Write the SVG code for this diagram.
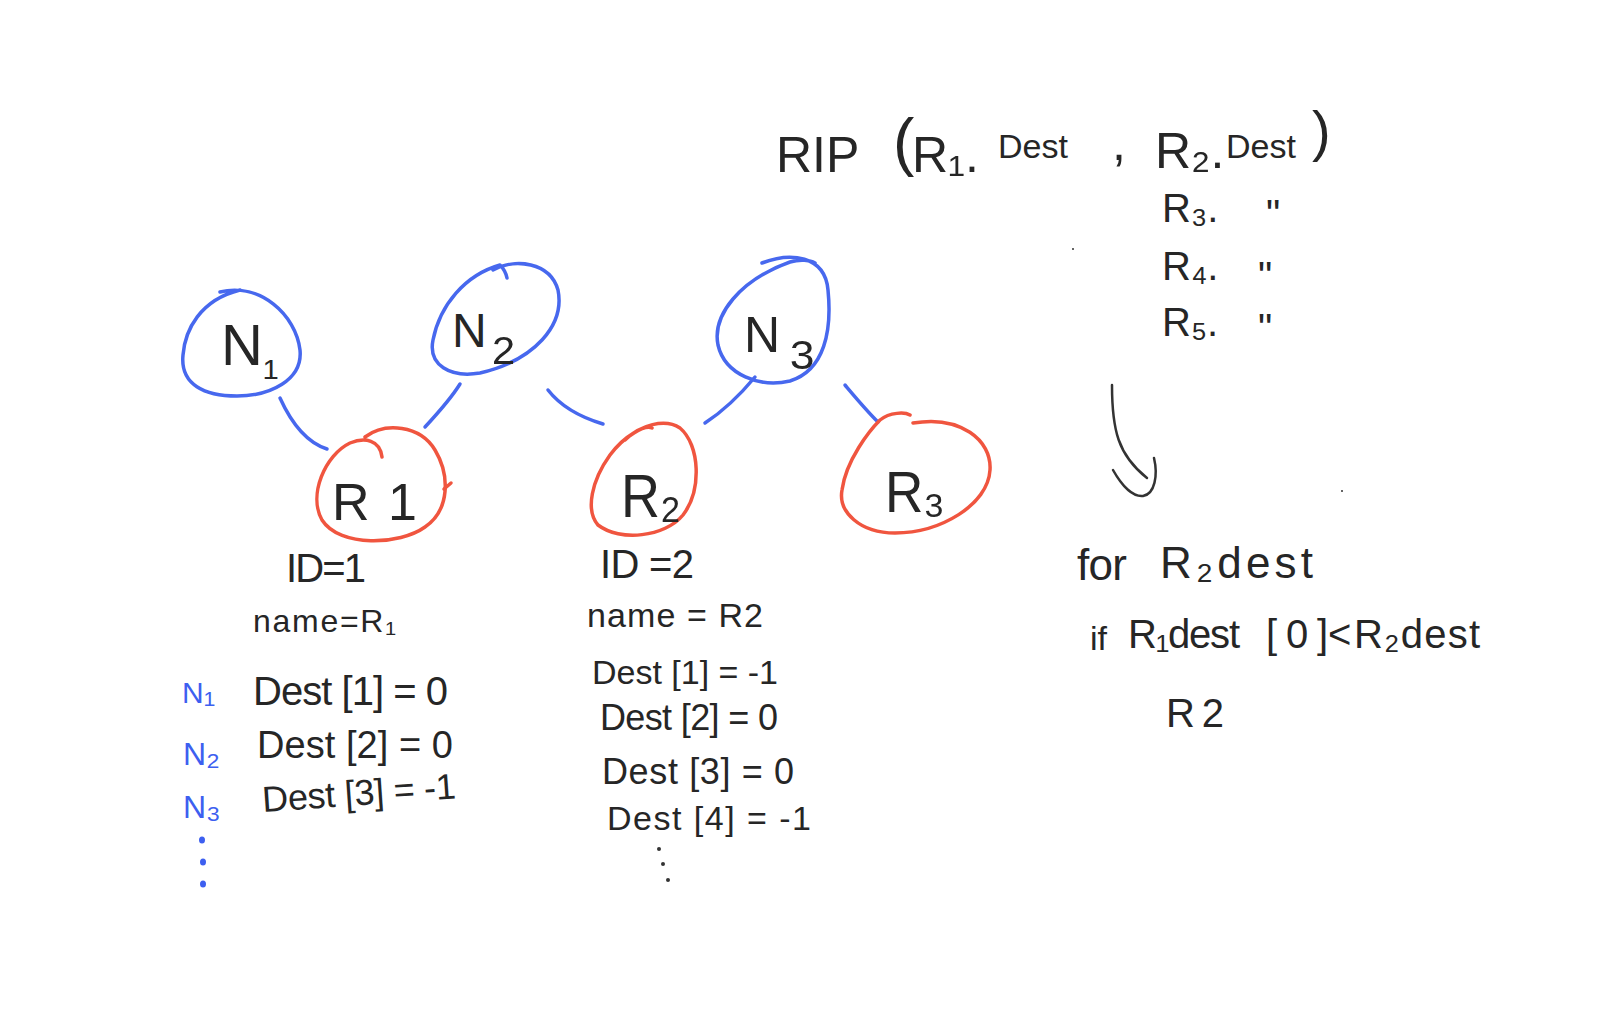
<svg xmlns="http://www.w3.org/2000/svg" width="1600" height="1035" viewBox="0 0 1600 1035">
<style>
.bl{fill:none;stroke:#4768ee;stroke-width:3.5;stroke-linecap:round;stroke-linejoin:round}
.rd{fill:none;stroke:#f0553f;stroke-width:3.5;stroke-linecap:round;stroke-linejoin:round}
.ink{fill:none;stroke:#333;stroke-width:2.5;stroke-linecap:round}
.t{font-family:"Liberation Sans","DejaVu Sans",sans-serif;fill:#262626}
.tb{font-family:"Liberation Sans","DejaVu Sans",sans-serif;fill:#3d5ff0}
.dotb{fill:#3d5ff0}
.dotk{fill:#333}
</style>
<rect width="1600" height="1035" fill="#ffffff"/>

<g id="connectors">
<path class="bl" d="M280,398 C290,420 305,442 327,449"/>
<path class="bl" d="M460,384 C450,400 438,413 425,427"/>
<path class="bl" d="M548,390 C562,408 583,418 603,424"/>
<path class="bl" d="M755,377 C740,395 725,410 705,423"/>
<path class="bl" d="M845,385 C856,398 866,410 878,422"/>
</g>

<g id="N1">
<path class="bl" d="M220,292 C260,282 296,315 300,350 C303,380 270,396 237,396 C205,396 180,385 183,355 C185,330 200,300 240,290"/>
<text class="t" x="221" y="365" font-size="58">N<tspan font-size="46" dy="10">₁</tspan></text>
</g>

<g id="N2">
<path class="bl" d="M493,270 C515,258 550,262 558,290 C565,325 535,360 480,373 C450,378 428,365 433,340 C440,305 465,275 500,265 C503,268 506,273 507,278"/>
<text class="t" x="452" y="347" font-size="48">N<tspan font-size="66" dx="4" dy="11">₂</tspan></text>
</g>

<g id="N3">
<path class="bl" d="M762,263 C790,252 825,255 828,290 C832,330 825,370 790,381 C760,388 725,375 718,345 C712,315 740,280 790,262 C800,259 810,260 815,263"/>
<text class="t" x="744" y="352" font-size="50">N<tspan font-size="70" dx="8" dy="11">₃</tspan></text>
</g>

<g id="R1">
<path class="rd" d="M365,437 C385,422 420,425 435,450 C450,475 450,510 425,527 C400,545 340,548 322,520 C308,495 325,455 350,443 C365,437 380,440 382,457"/>
<path class="rd" d="M444,489 L451,483"/>
<text class="t" y="520" font-size="52"><tspan x="332">R</tspan><tspan x="388">1</tspan></text>
</g>

<g id="R2">
<path class="rd" d="M625,440 C640,425 665,418 680,428 C700,445 702,490 683,515 C665,537 620,542 598,525 C585,510 592,480 610,455 C625,435 645,425 652,428"/>
<text class="t" x="621" y="517" font-size="62" textLength="60" lengthAdjust="spacingAndGlyphs">R₂</text>
</g>

<g id="R3">
<path class="rd" d="M913,423 C960,415 992,440 990,470 C988,505 940,533 895,533 C860,533 838,512 842,490 C846,460 870,430 880,420 C890,412 905,412 910,415"/>
<text class="t" x="885" y="512" font-size="58" textLength="60" lengthAdjust="spacingAndGlyphs">R₃</text>
</g>

<g id="rip-call">
<text class="t" font-size="50">
<tspan x="776" y="172">RIP</tspan><tspan x="893" y="164" font-size="64">(</tspan><tspan x="912" y="172">R₁.</tspan><tspan x="998" y="158" font-size="34">Dest</tspan><tspan x="1112" y="160">,</tspan><tspan x="1155" y="168">R₂.</tspan><tspan x="1226" y="158" font-size="34">Dest</tspan><tspan x="1312" y="150" font-size="56">)</tspan>
</text>
<text class="t" font-size="40"><tspan x="1162" y="222">R₃.</tspan><tspan x="1266" y="228">"</tspan></text>
<text class="t" font-size="40"><tspan x="1162" y="280">R₄.</tspan><tspan x="1258" y="290">"</tspan></text>
<text class="t" font-size="40"><tspan x="1162" y="336">R₅.</tspan><tspan x="1258" y="342">"</tspan></text>
<circle class="dotk" cx="1073" cy="249" r="1"/>
<circle class="dotk" cx="1342" cy="491" r="1"/>
</g>

<g id="arrow">
<path class="ink" d="M1112,385 C1112,430 1118,455 1147,478"/>
<path class="ink" d="M1113,470 C1122,486 1133,497 1143,496 C1155,494 1158,475 1154,458"/>
</g>

<g id="loop">
<text class="t" font-size="44"><tspan x="1077" y="580" textLength="50">for</tspan><tspan x="1160" y="578" textLength="153">R₂dest</tspan></text>
<text class="t" font-size="40"><tspan x="1090" y="650" font-size="34">if</tspan><tspan x="1128" y="648" textLength="112">R₁dest</tspan><tspan x="1266" y="648" textLength="62">[0]</tspan><tspan x="1328" y="648">&lt;</tspan><tspan x="1354" y="648" textLength="126">R₂dest</tspan></text>
<text class="t" font-size="40" x="1166" y="727" textLength="58">R 2</text>
</g>

<g id="R1-table">
<text class="t" x="286" y="582" font-size="40" textLength="80">ID=1</text>
<text class="t" x="253" y="632" font-size="32" textLength="143">name=R₁</text>
<text class="t" x="253" y="705" font-size="40" textLength="195">Dest [1] = 0</text>
<text class="t" x="257" y="758" font-size="38" textLength="196">Dest [2] = 0</text>
<text class="t" x="263" y="812" font-size="36" textLength="194" transform="rotate(-4 263 812)">Dest [3] = -1</text>
<text class="tb" x="182" y="703" font-size="30">N<tspan font-size="34">₁</tspan></text>
<text class="tb" x="183" y="765" font-size="32">N<tspan font-size="36">₂</tspan></text>
<text class="tb" x="183" y="818" font-size="32">N<tspan font-size="36">₃</tspan></text>
<ellipse class="dotb" cx="202" cy="840" rx="3" ry="3.5"/>
<ellipse class="dotb" cx="203" cy="862" rx="3" ry="3.5"/>
<ellipse class="dotb" cx="203" cy="884" rx="3" ry="3.5"/>
</g>

<g id="R2-table">
<text class="t" x="600" y="578" font-size="40" textLength="94">ID =2</text>
<text class="t" x="587" y="627" font-size="34" textLength="176">name = R2</text>
<text class="t" x="592" y="684" font-size="34" textLength="186">Dest [1] = -1</text>
<text class="t" x="600" y="730" font-size="36" textLength="178">Dest [2] = 0</text>
<text class="t" x="602" y="784" font-size="36" textLength="192">Dest [3] = 0</text>
<text class="t" x="607" y="830" font-size="34" textLength="204">Dest [4] = -1</text>
<circle class="dotk" cx="659" cy="849" r="2"/>
<circle class="dotk" cx="663" cy="864" r="2"/>
<circle class="dotk" cx="668" cy="880" r="2"/>
</g>
</svg>
